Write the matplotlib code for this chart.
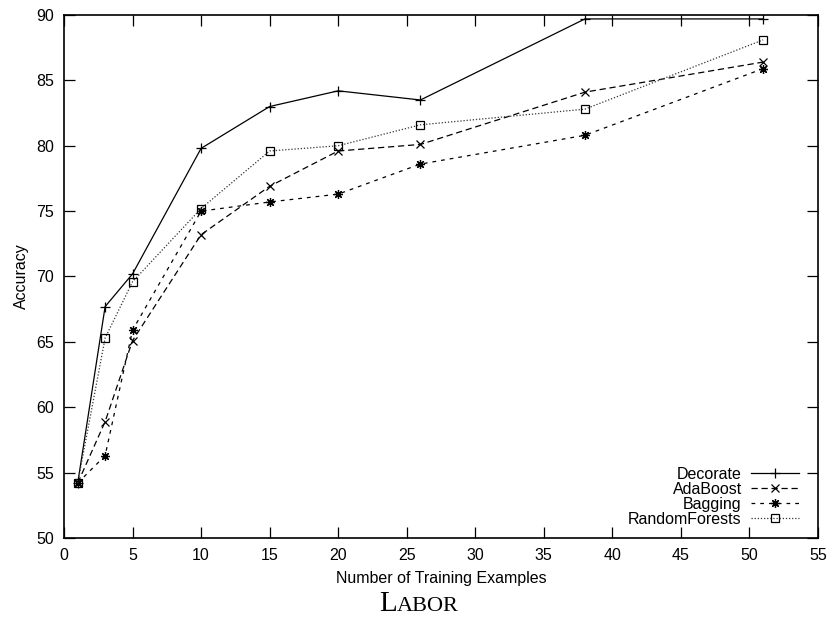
import matplotlib
matplotlib.use("Agg")
import matplotlib.pyplot as plt

x_examples = [1, 3, 5, 10, 15, 20, 26, 38, 51]
decorate = [54.2, 67.7, 70.2, 79.8, 83.0, 84.2, 83.5, 89.7, 89.7]
adaboost = [54.2, 58.9, 65.1, 73.2, 76.9, 79.6, 80.1, 84.1, 86.4]
bagging = [54.2, 56.3, 65.9, 75.0, 75.7, 76.3, 78.6, 80.8, 85.9]
randomforests = [54.2, 65.3, 69.6, 75.2, 79.6, 80.0, 81.6, 82.8, 88.1]
series_names = ["Decorate", "AdaBoost", "Bagging", "RandomForests"]
x_ticks = [0, 5, 10, 15, 20, 25, 30, 35, 40, 45, 50, 55]
y_ticks = [50, 55, 60, 65, 70, 75, 80, 85, 90]

plt.rcParams['font.family'] = ['Liberation Sans', 'DejaVu Sans']

fig = plt.figure(figsize=(8.33, 6.19), dpi=100)
ax = fig.add_axes([64/833, 1-538/619, (818-64)/833, (538-15)/619])

lw = 0.9
fs = 11.5
ax.plot(x_examples, decorate, color='black', lw=lw, ls='-', marker='+',
        markersize=6.5, markeredgewidth=0.9, label=series_names[0])
ax.plot(x_examples, adaboost, color='black', lw=lw, ls=(0, (5, 3)), marker='x',
        markersize=5.5, markeredgewidth=0.9, label=series_names[1])
ax.plot(x_examples, bagging, color='black', lw=lw, ls=(0, (3, 4)), marker=(8, 2, 0),
        markersize=6.5, markeredgewidth=0.9, label=series_names[2])
ax.plot(x_examples, randomforests, color='#333333', lw=lw, ls=(0, (1, 1.5)), marker='s',
        markersize=5.5, markerfacecolor='none', markeredgecolor='black',
        markeredgewidth=0.9, label=series_names[3])

ax.set_xlim(0, 55)
ax.set_ylim(50, 90)
ax.set_xticks(x_ticks)
ax.set_yticks(y_ticks)
ax.tick_params(direction='in', length=8, width=0.9, top=True, right=True,
               labelsize=fs, pad=7)
for s in ax.spines.values():
    s.set_linewidth(1.2)

ax.set_xlabel("Number of Training Examples", fontsize=fs, labelpad=6)
ax.set_ylabel("Accuracy", fontsize=fs, labelpad=5)

leg = ax.legend(loc='lower right', bbox_to_anchor=(0.99, 0.0), frameon=False,
                markerfirst=False, fontsize=fs, handlelength=3.0,
                handletextpad=0.6, labelspacing=0.0, borderaxespad=0.3)

# Title in small caps style
fig.text(397/833, 1-611/619, "L", fontsize=21, family=['Liberation Serif'],
         ha='right', va='baseline')
fig.text(397/833, 1-611/619, "ABOR", fontsize=16, family=['Liberation Serif'],
         ha='left', va='baseline')

fig.savefig("out.png", dpi=100)
